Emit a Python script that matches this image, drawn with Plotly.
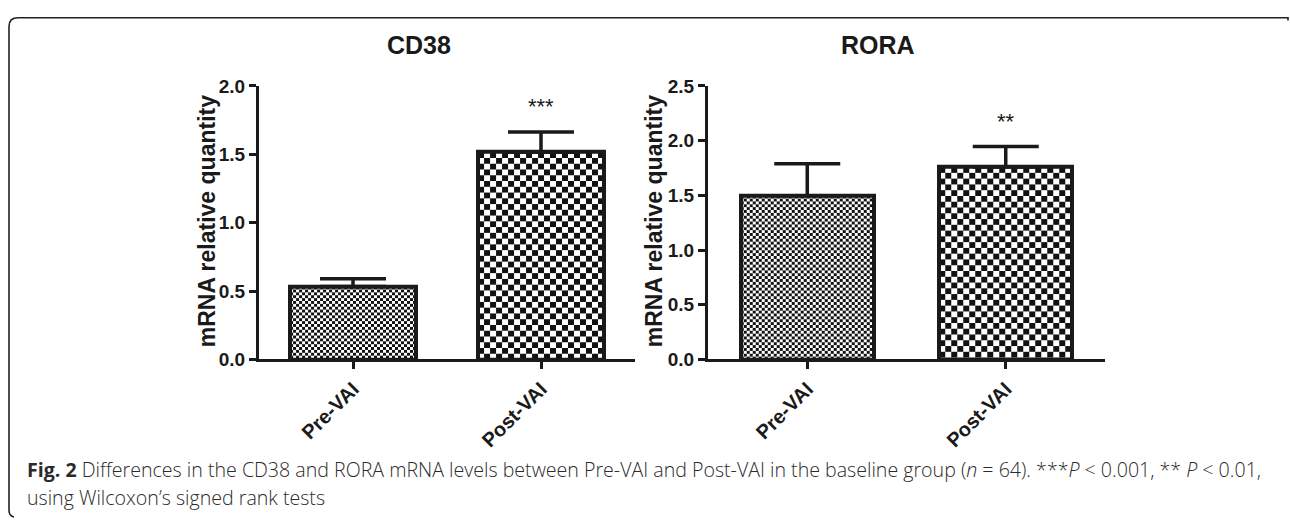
import base64
import struct
import zlib

import plotly.graph_objects as go

# Relative mRNA quantity (mean and upper error) before and after VAI
categories = ["Pre-VAI", "Post-VAI"]
cd38_mean = [0.533, 1.515]
cd38_err = [0.057, 0.147]
rora_mean = [1.497, 1.758]
rora_err = [0.292, 0.187]
cd38_sig = ["", "***"]
rora_sig = ["", "**"]
cd38_ticks = [0.0, 0.5, 1.0, 1.5, 2.0]
rora_ticks = [0.0, 0.5, 1.0, 1.5, 2.0, 2.5]

W, H = 1290, 527
BAR_W = 0.67
CELL = [3, 6]  # checker cell size (px) for the two groups

# panel geometry in pixels
PLOT_TOP, PLOT_BOTTOM = 79, 364
LEFT_X = (259, 635)
RIGHT_X = (708, 1105)


def px(x):
    return x / W


def py(y):
    return 1 - y / H


def checker_png(w, h, cell, dark=18, light=255):
    """Grayscale PNG data URI with a checkerboard of the given cell size."""
    rows = []
    for yy in range(h):
        row = bytearray([0])
        for xx in range(w):
            row.append(dark if ((xx // cell) + (yy // cell)) % 2 == 0 else light)
        rows.append(bytes(row))

    def chunk(tag, data):
        body = tag + data
        return struct.pack(">I", len(data)) + body + struct.pack(">I", zlib.crc32(body) & 0xFFFFFFFF)

    png = (b"\x89PNG\r\n\x1a\n"
           + chunk(b"IHDR", struct.pack(">IIBBBBB", w, h, 8, 0, 0, 0, 0))
           + chunk(b"IDAT", zlib.compress(b"".join(rows), 9))
           + chunk(b"IEND", b""))
    return "data:image/png;base64," + base64.b64encode(png).decode()


AX_FONT = "Liberation Sans, Arial, sans-serif"
INK = "#1a1a1a"

fig = go.Figure()
images = []

panels = [
    (cd38_mean, cd38_err, "x", "y", LEFT_X, cd38_ticks[-1]),
    (rora_mean, rora_err, "x2", "y2", RIGHT_X, rora_ticks[-1]),
]
for means, errs, xa, ya, (xl, xr), ymax in panels:
    cat_px = (xr - xl) / len(categories)
    val_px = (PLOT_BOTTOM - PLOT_TOP) / ymax
    for i, cat in enumerate(categories):
        fig.add_trace(go.Bar(
            x=[cat], y=[means[i]], xaxis=xa, yaxis=ya, width=BAR_W,
            marker=dict(color="rgba(0,0,0,0)", line=dict(color=INK, width=4)),
            error_y=dict(type="data", symmetric=False, array=[errs[i]], arrayminus=[0],
                         thickness=3.5, width=33, color=INK),
            showlegend=False, hoverinfo="skip",
        ))
        # checkerboard fill under the bar outline
        wpx = max(1, round(BAR_W * cat_px))
        hpx = max(1, round(means[i] * val_px))
        images.append(dict(
            source=checker_png(wpx, hpx, CELL[i]), xref=xa, yref=ya,
            x=i - BAR_W / 2, y=means[i], sizex=BAR_W, sizey=means[i],
            sizing="stretch", xanchor="left", yanchor="top", layer="below",
        ))

axis_common = dict(showline=True, linewidth=3, linecolor=INK, ticks="outside", ticklen=7,
                   tickwidth=3, tickcolor=INK, showgrid=False, zeroline=False)

fig.update_layout(
    width=W, height=H, margin=dict(l=0, r=0, t=0, b=0),
    paper_bgcolor="white", plot_bgcolor="rgba(0,0,0,0)", bargap=0,
    images=images,
    xaxis=dict(domain=[px(LEFT_X[0]), px(LEFT_X[1])], anchor="y", type="category",
               categoryorder="array", categoryarray=categories, range=[-0.5, 1.5],
               tickangle=-45, tickfont=dict(family=AX_FONT, size=20, color=INK, weight="bold"),
               **axis_common),
    yaxis=dict(domain=[py(PLOT_BOTTOM), py(PLOT_TOP)], anchor="x", range=[0, cd38_ticks[-1]],
               tickvals=cd38_ticks, tickformat=".1f",
               tickfont=dict(family=AX_FONT, size=19, color=INK, weight="bold"),
               **axis_common),
    xaxis2=dict(domain=[px(RIGHT_X[0]), px(RIGHT_X[1])], anchor="y2", type="category",
                categoryorder="array", categoryarray=categories, range=[-0.5, 1.5],
                tickangle=-45, tickfont=dict(family=AX_FONT, size=20, color=INK, weight="bold"),
                **axis_common),
    yaxis2=dict(domain=[py(PLOT_BOTTOM), py(PLOT_TOP)], anchor="x2", range=[0, rora_ticks[-1]],
                tickvals=rora_ticks, tickformat=".1f",
                tickfont=dict(family=AX_FONT, size=19, color=INK, weight="bold"),
                **axis_common),
)

annotations = []
# significance marks above the error bars
for means, errs, sig, xa, ya in [(cd38_mean, cd38_err, cd38_sig, "x", "y"),
                                 (rora_mean, rora_err, rora_sig, "x2", "y2")]:
    for i, cat in enumerate(categories):
        if sig[i]:
            annotations.append(dict(x=cat, y=means[i] + errs[i], xref=xa, yref=ya, text=sig[i],
                                    showarrow=False, yanchor="bottom", yshift=11,
                                    font=dict(family=AX_FONT, size=22, color=INK)))

# panel titles
for name, cx in [("CD38", 419), ("RORA", 878)]:
    annotations.append(dict(x=px(cx), y=py(36), xref="paper", yref="paper", text=f"<b>{name}</b>",
                            showarrow=False, xanchor="center", yanchor="middle",
                            font=dict(family=AX_FONT, size=25, color=INK)))

# y-axis titles
for cx in [207, 654]:
    annotations.append(dict(x=px(cx), y=py(220), xref="paper", yref="paper",
                            text="<b>mRNA relative quantity</b>", textangle=-90, showarrow=False,
                            xanchor="center", yanchor="middle",
                            font=dict(family=AX_FONT, size=23, color=INK)))

# figure caption
CAP_FONT = "Open Sans, Noto Sans, sans-serif"
cap1 = ("<b>Fig. 2</b> Differences in the CD38 and RORA mRNA levels between Pre-VAI and Post-VAI "
        "in the baseline group (<i>n</i> = 64). ***<i>P</i> &lt; 0.001, ** <i>P</i> &lt; 0.01,")
cap2 = "using Wilcoxon’s signed rank tests"
for text, cy in [(cap1, 479), (cap2, 508)]:
    annotations.append(dict(x=px(25), y=py(cy), xref="paper", yref="paper", text=text,
                            showarrow=False, xanchor="left", yanchor="middle",
                            font=dict(family=CAP_FONT, size=19.6, color="#2b2b2b", weight=300)))

fig.update_layout(annotations=annotations)

# rounded frame along the top and left edges
frame = (f"M {px(1288)},{py(11)} L {px(1288)},{py(8)} L {px(18)},{py(8)} "
         f"Q {px(9)},{py(8)} {px(9)},{py(17)} L {px(9)},{py(521)} "
         f"Q {px(9)},{py(527)} {px(14)},{py(528)}")
fig.add_shape(type="path", path=frame, xref="paper", yref="paper",
              line=dict(color="#222222", width=1.6))

fig.write_html("out.html")
